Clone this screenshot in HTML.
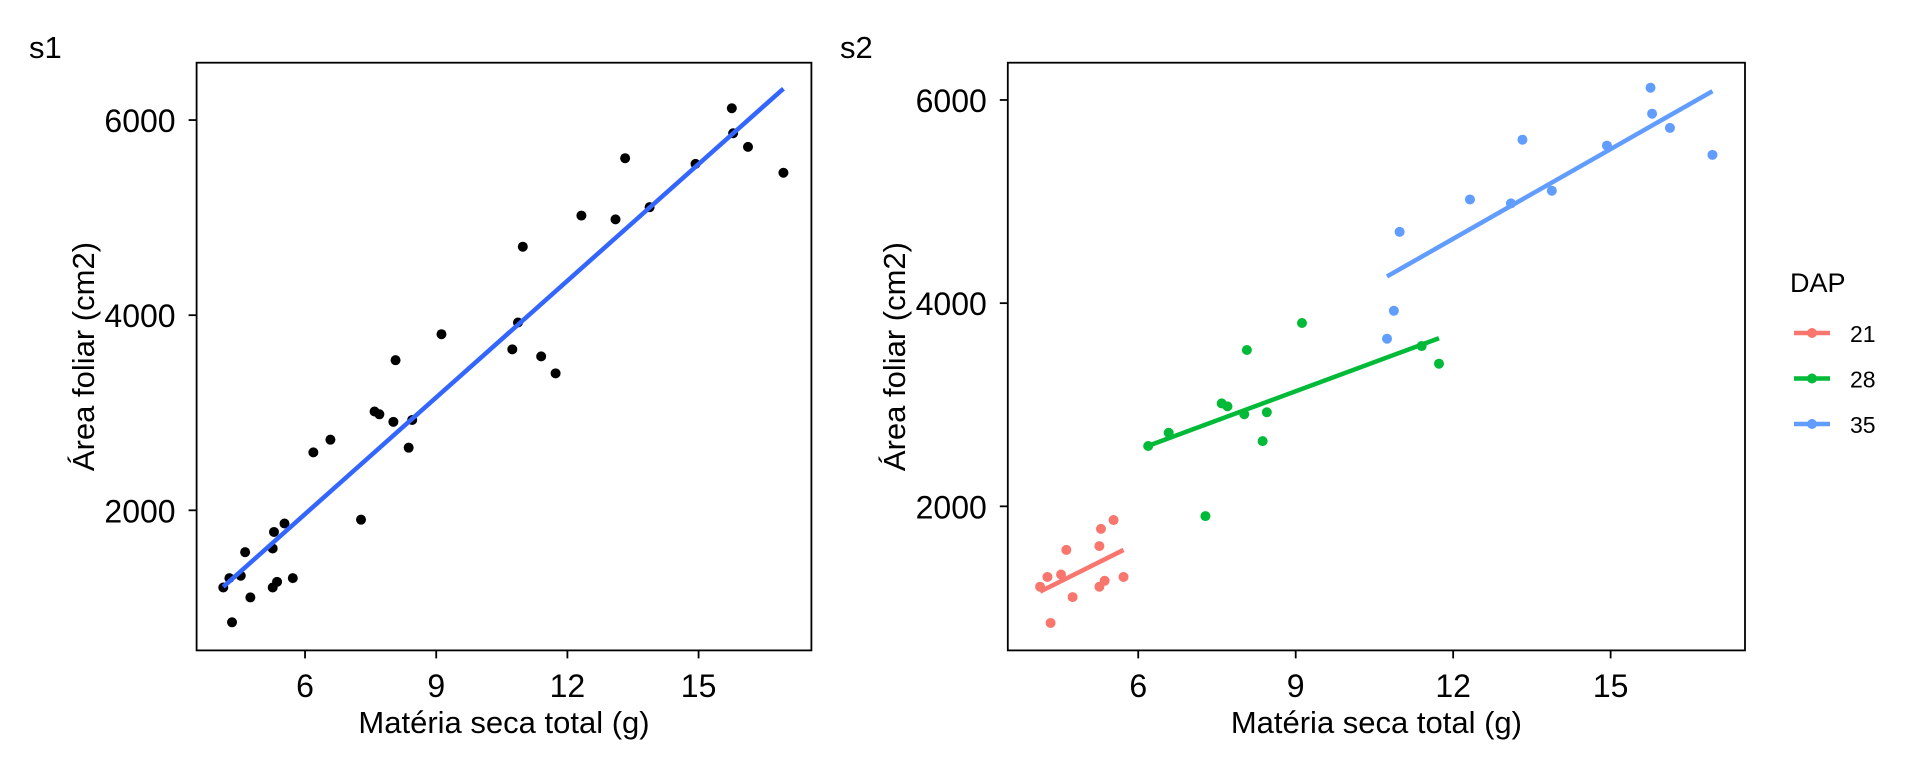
<!DOCTYPE html>
<html><head><meta charset="utf-8"><style>
html,body{margin:0;padding:0;background:#fff}
svg{display:block;font-family:"Liberation Sans",Arial,sans-serif}
</style></head><body>
<svg id="c" width="1920" height="768" viewBox="0 0 1920 768" xmlns="http://www.w3.org/2000/svg">
<rect width="1920" height="768" fill="#fff"/>
</svg>
<script>
const xTicks=[6,9,12,15];
const yTicks=[2000,4000,6000];
const redX=[4.13,4.27,4.33,4.53,4.63,4.75,5.26,5.26,5.29,5.36,5.53,5.72];
const redY=[1209,1305,852,1329,1571,1107,1209,1609,1778,1267,1865,1305];
const greenX=[6.19,6.58,7.28,7.59,7.70,8.02,8.07,8.37,8.45,9.12,11.40,11.73];
const greenY=[2594,2724,1904,3013,2984,2907,3539,2642,2926,3805,3578,3404];
const blueX=[10.74,10.87,10.98,12.32,13.10,13.32,13.88,14.93,15.76,15.79,16.13,16.94];
const blueY=[3650,3925,4702,5021,4982,5609,5107,5551,6121,5865,5725,5460];
const allLineX=[4.13,16.94];
const allLineY=[1216,6322];
const redLineX=[4.13,5.72], redLineY=[1161,1571];
const greenLineX=[6.13,11.73], greenLineY=[2584,3655];
const blueLineX=[10.74,16.94], blueLineY=[4263,6087];
const legendLabels=['21','28','35'];
const colors=['#F8766D','#00BA38','#619CFF'];

const NS='http://www.w3.org/2000/svg';
const svg=document.getElementById('c');
function mk(t,a,p){const e=document.createElementNS(NS,t);for(const k in a)e.setAttribute(k,a[k]);(p||svg).appendChild(e);return e;}

function panel(cfg){
  const g=mk('g',{});
  
  
  const sx=v=>cfg.x0+(v-cfg.xd[0])/(cfg.xd[1]-cfg.xd[0])*(cfg.x1-cfg.x0);
  const sy=v=>cfg.y1-(v-cfg.yd[0])/(cfg.yd[1]-cfg.yd[0])*(cfg.y1-cfg.y0);
  const box=mk('rect',{x:cfg.x0,y:cfg.y0,width:cfg.x1-cfg.x0,height:cfg.y1-cfg.y0,fill:'none',stroke:'#000','stroke-width':1.8},g);
  
  
  xTicks.forEach(v=>{
    const x=sx(v);
    mk('line',{x1:x,x2:x,y1:cfg.y1,y2:cfg.y1+8,stroke:'#000','stroke-width':1.8},g);
    const t=mk('text',{x:x,y:697,'text-anchor':'middle','font-size':32,fill:'#000'},g);
    t.textContent=v;
    
    
  });
  yTicks.forEach(v=>{
    const y=sy(v);
    mk('line',{x1:cfg.x0-8,x2:cfg.x0,y1:y,y2:y,stroke:'#000','stroke-width':1.8},g);
    const t=mk('text',{x:cfg.x0-21,y:y+12,'text-anchor':'end','font-size':32,fill:'#000'},g);
    t.textContent=v;
    
    
  });
  const xt=mk('text',{x:(cfg.x0+cfg.x1)/2,y:733,'text-anchor':'middle','font-size':31,fill:'#000'},g);
  xt.textContent='Matéria seca total (g)';
  
  
  const yc=(cfg.y0+cfg.y1)/2;
  const yt=mk('text',{x:cfg.ytx,y:yc,'text-anchor':'middle','font-size':31,fill:'#000',transform:`rotate(-90 ${cfg.ytx} ${yc})`},g);
  yt.textContent='Área foliar (cm2)';
  
  
  const tag=mk('text',{x:cfg.tagx,y:58,'font-size':31,fill:'#000'},g);
  tag.textContent=cfg.tag;
  
  
  cfg.series.forEach(s=>{
    s.px.forEach((v,i)=>{
      const c=mk('circle',{cx:sx(v),cy:sy(s.py[i]),r:5,fill:s.color},g);
      
      
    });
  });
  cfg.lines.forEach(l=>{
    const ln=mk('line',{x1:sx(l.lx[0]),y1:sy(l.ly[0]),x2:sx(l.lx[1]),y2:sy(l.ly[1]),stroke:l.color,'stroke-width':4.5},g);
    
    
  });
}

panel({name:'panel-s1',tag:'s1',tagx:29,x0:196.6,x1:811.4,y0:62.7,y1:650.4,xd:[3.52,17.58],yd:[564,6588],ytx:94,
  series:[{px:redX.concat(greenX,blueX),py:redY.concat(greenY,blueY),color:'#000'}],
  lines:[{lx:allLineX,ly:allLineY,color:'#3366FF'}]});
panel({name:'panel-s2',tag:'s2',tagx:840,x0:1007.8,x1:1745,y0:62.7,y1:650.4,xd:[3.515,17.56],yd:[582,6367],ytx:905,
  series:[{px:redX,py:redY,color:colors[0]},{px:greenX,py:greenY,color:colors[1]},{px:blueX,py:blueY,color:colors[2]}],
  lines:[{lx:redLineX,ly:redLineY,color:colors[0]},{lx:greenLineX,ly:greenLineY,color:colors[1]},{lx:blueLineX,ly:blueLineY,color:colors[2]}]});

const lg=mk('g',{});


const lt=mk('text',{x:1790,y:292,'font-size':27,fill:'#000'},lg);
lt.textContent='DAP';


legendLabels.forEach((lab,i)=>{
  const y=333+i*45.5;
  const e=mk('g',{},lg);
  
  
  mk('line',{x1:1794,x2:1830,y1:y,y2:y,stroke:colors[i],'stroke-width':4.5},e);
  mk('circle',{cx:1812,cy:y,r:5,fill:colors[i]},e);
  const t=mk('text',{x:1850,y:y+9,'font-size':23,fill:'#000'},e);
  t.textContent=lab;
});
</script>
</body></html>
